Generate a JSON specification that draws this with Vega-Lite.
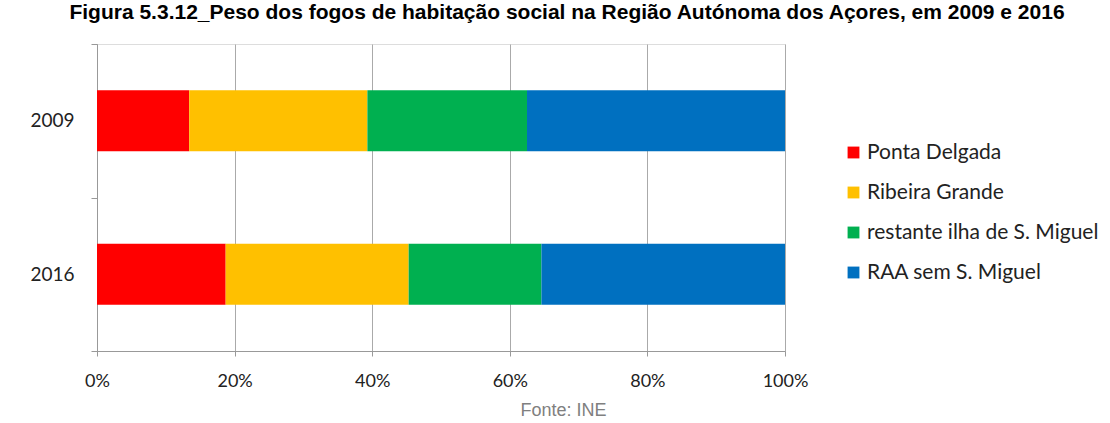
{
  "$schema": "https://vega.github.io/schema/vega-lite/v6.json",
  "autosize": {"type": "none"},
  "width": 688,
  "height": 307,
  "padding": {"left": 97, "top": 44, "right": 325, "bottom": 72},
  "background": "white",
  "title": {
    "text": "Figura 5.3.12_Peso dos fogos de habitação social na Região Autónoma dos Açores, em 2009 e 2016",
    "font": "Liberation Sans",
    "fontWeight": "bold",
    "fontSize": 21,
    "color": "#000000",
    "anchor": "middle",
    "frame": "group",
    "dx": 126,
    "offset": 12
  },
  "data": {
    "values": [
      {"ano": "2009", "zona": "Ponta Delgada", "ordem": 1, "peso": 13.4},
      {"ano": "2009", "zona": "Ribeira Grande", "ordem": 2, "peso": 25.9},
      {"ano": "2009", "zona": "restante ilha de S. Miguel", "ordem": 3, "peso": 23.2},
      {"ano": "2009", "zona": "RAA sem S. Miguel", "ordem": 4, "peso": 37.5},
      {"ano": "2016", "zona": "Ponta Delgada", "ordem": 1, "peso": 18.7},
      {"ano": "2016", "zona": "Ribeira Grande", "ordem": 2, "peso": 26.6},
      {"ano": "2016", "zona": "restante ilha de S. Miguel", "ordem": 3, "peso": 19.3},
      {"ano": "2016", "zona": "RAA sem S. Miguel", "ordem": 4, "peso": 35.4}
    ]
  },
  "mark": {"type": "bar", "size": 61},
  "encoding": {
    "y": {
      "field": "ano",
      "type": "nominal",
      "scale": {"paddingInner": 0, "paddingOuter": 0},
      "axis": {
        "title": null,
        "labelFont": "Lato",
        "labelFontSize": 19,
        "labelColor": "#222222",
        "labelPadding": 17,
        "domainColor": "#999999",
        "tickColor": "#999999",
        "tickBand": "extent",
        "tickSize": 6,
        "grid": false
      }
    },
    "x": {
      "field": "peso",
      "type": "quantitative",
      "stack": "normalize",
      "scale": {"domain": [0, 1]},
      "axis": {
        "format": ".0%",
        "values": [0, 0.2, 0.4, 0.6, 0.8, 1],
        "labelFlush": false,
        "labelFont": "Lato",
        "labelFontSize": 18,
        "labelColor": "#222222",
        "labelPadding": 16,
        "domainColor": "#999999",
        "tickColor": "#999999",
        "tickSize": 5,
        "gridColor": "#aaaaaa",
        "gridWidth": 1,
        "title": "Fonte: INE",
        "titleFont": "Liberation Sans",
        "titleFontWeight": "normal",
        "titleFontSize": 18,
        "titleColor": "#808080",
        "titleBaseline": "top",
        "titleX": 466,
        "titleY": 50
      }
    },
    "color": {
      "field": "zona",
      "type": "nominal",
      "scale": {
        "domain": ["Ponta Delgada", "Ribeira Grande", "restante ilha de S. Miguel", "RAA sem S. Miguel"],
        "range": ["#ff0000", "#ffc000", "#00b050", "#0070c0"]
      },
      "legend": {
        "title": null,
        "orient": "none",
        "legendX": 746,
        "legendY": 98,
        "symbolType": "square",
        "symbolSize": 140,
        "symbolStrokeWidth": 0,
        "labelFont": "Lato",
        "labelFontSize": 21,
        "labelColor": "#222222",
        "labelOffset": 3,
        "labelLimit": 300,
        "rowPadding": 18
      }
    },
    "order": {"field": "ordem", "type": "quantitative"}
  }
}
